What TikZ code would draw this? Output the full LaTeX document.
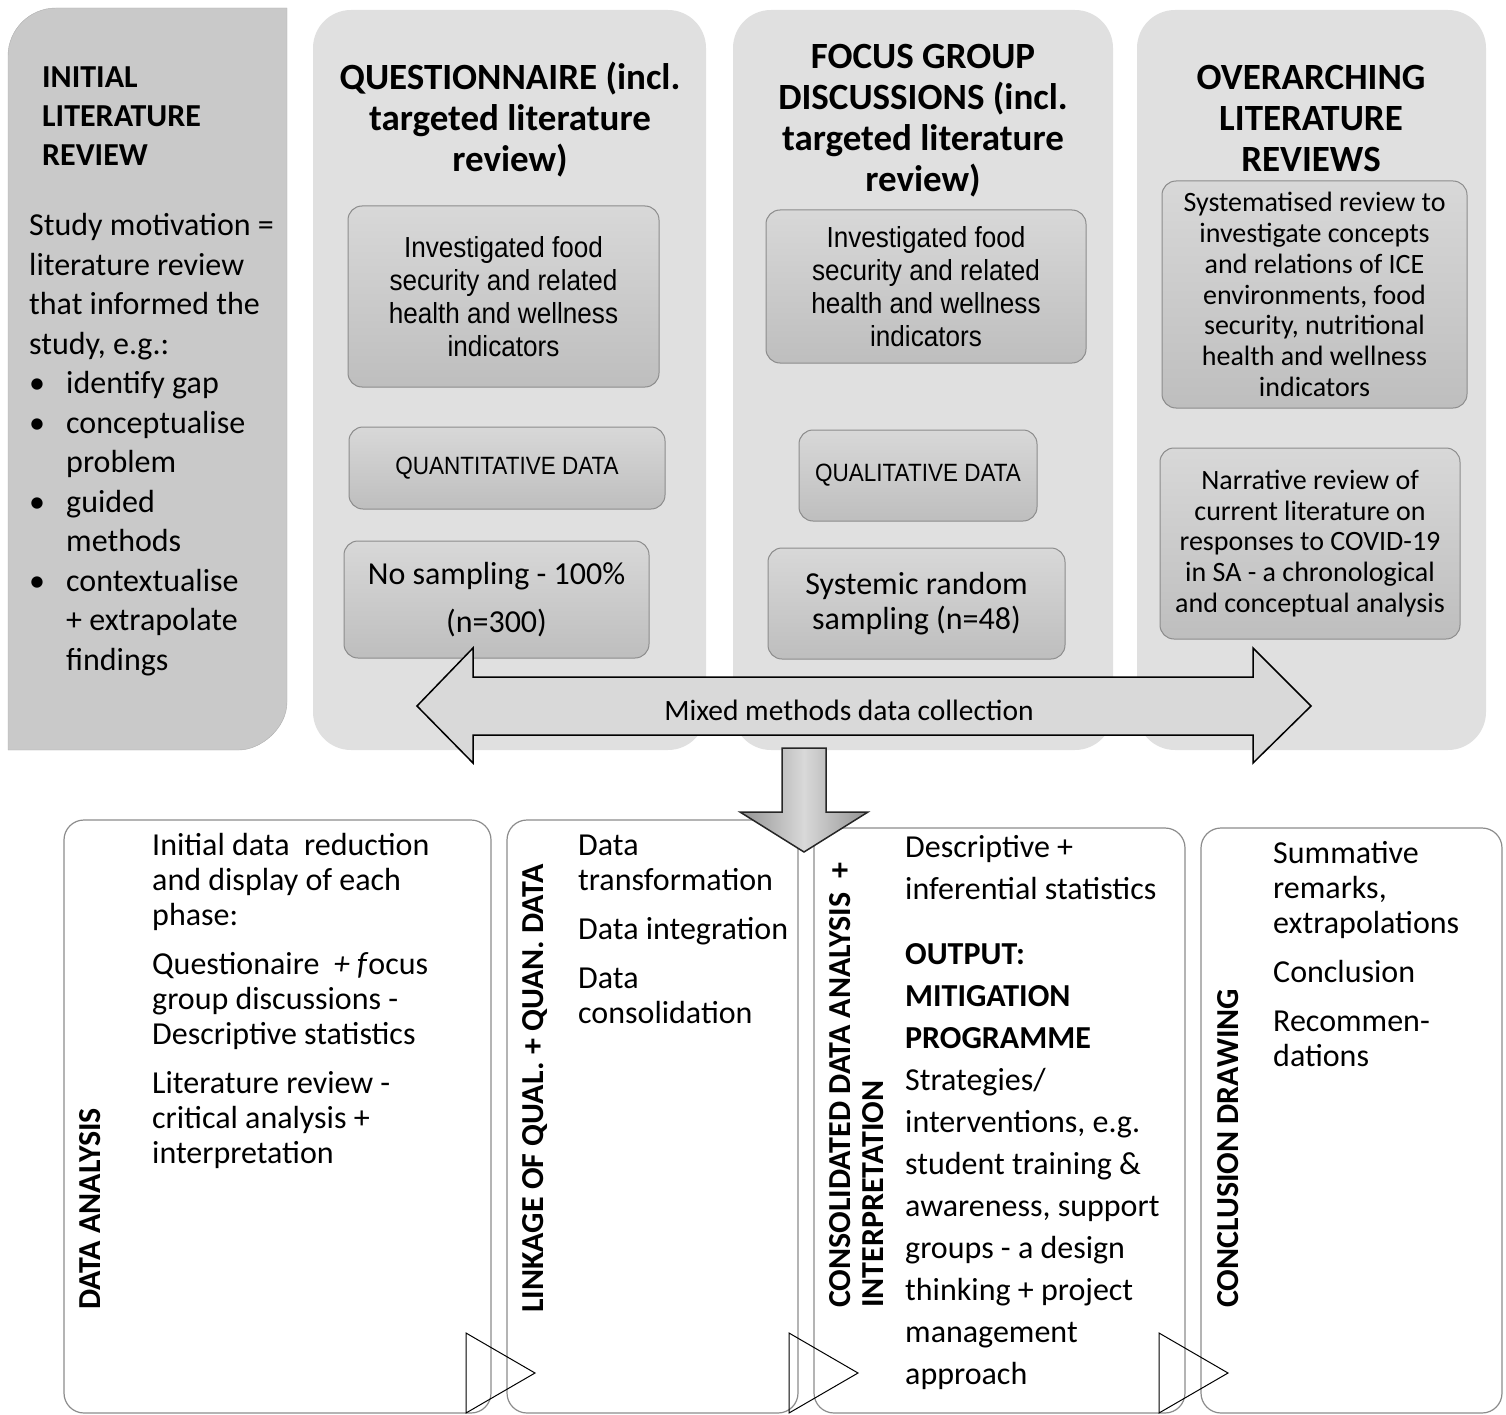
\documentclass[tikz,border=0pt]{standalone}
\usepackage{fontspec}
\setmainfont{Carlito}
\newfontfamily\narrowfont{Liberation Sans}[FakeStretch=0.9]
\usepackage{xcolor}
\usetikzlibrary{positioning}

\definecolor{panelgray}{HTML}{E0E0E0}
\definecolor{litgray}{HTML}{C9C9C9}
\definecolor{subtop}{HTML}{D8D8D8}
\definecolor{subbot}{HTML}{BEBEBE}
\definecolor{edgegray}{HTML}{8C8C8C}
\definecolor{arrowgray}{HTML}{D9D9D9}

\newcommand{\fsz}[2]{\fontsize{#1}{#2}\selectfont}
\newcommand{\bul}{\makebox[37pt][l]{\textbullet}}
\newcommand{\ind}{\hspace*{37pt}}

\begin{document}
\begin{tikzpicture}[x=1pt, y=-1pt,
  panel/.style={fill=panelgray, rounded corners=38pt},
  subbox/.style={draw=edgegray, line width=1pt, top color=subtop, bottom color=subbot, rounded corners=14pt},
  lowbox/.style={draw=edgegray, line width=1.2pt, fill=white, rounded corners=20pt},
  phase/.style={font=\bfseries\fsz{37}{41}, align=center, anchor=base, inner sep=0pt},
  narrowtxt/.style={font=\narrowfont\fsz{29}{33}, align=center},
  bodytxt/.style={font=\fsz{32}{35}, align=left, anchor=base west, inner sep=0pt},
  sidelabel/.style={font=\bfseries\fsz{32}{33}, rotate=90, anchor=base west, inner sep=0pt},
  stepmark/.style={draw=black, line width=1pt}
]
\useasboundingbox (0,0) rectangle (1506,1415);

% Top row: background panels
\draw[edgegray!70, fill=litgray] (8,750) -- (8,56) .. controls (8,29.5) and (29.5,8) .. (56,8)
  -- (287,8) -- (287,702) .. controls (287,728.5) and (260.5,750) .. (239,750) -- cycle;
\fill[panel] (313,10) rectangle (706,750);
\fill[panel] (733,10) rectangle (1113,750);
\fill[panel] (1137,10) rectangle (1486,750);

% Initial literature review (anchored at last baseline)
\node[font=\bfseries\fsz{32}{39}, align=left, anchor=base west, inner sep=0pt] (iltitle) at (42,166)
  {INITIAL\\LITERATURE\\REVIEW};
\node[font=\fsz{32}{39.5}, align=left, anchor=base west, inner sep=0pt] (iltext) at (29,670)
  {Study motivation =\\literature review\\that informed the\\study, e.g.:\\
   \bul identify gap\\\bul conceptualise\\\ind problem\\\bul guided\\\ind methods\\
   \bul contextualise\\\ind + extrapolate\\\ind findings};

% Phase titles
\node[phase] (qtitle) at (510,172) {QUESTIONNAIRE (incl.\\targeted literature\\review)};
\node[phase] (ftitle) at (923,192) {FOCUS GROUP\\DISCUSSIONS (incl.\\targeted literature\\review)};
\node[phase] (otitle) at (1311,172) {OVERARCHING\\LITERATURE\\REVIEWS};

% Questionnaire column
\node[subbox, narrowtxt, minimum width=311pt, minimum height=181pt] (qind) at (503.5,296.5)
  {Investigated food\\security and related\\health and wellness\\indicators};
\node[subbox, font=\narrowfont\fsz{25}{28}, minimum width=316pt, minimum height=82pt] (qdata) at (507,468)
  {QUANTITATIVE DATA};
\node[subbox, font=\fsz{32}{48}, align=center, minimum width=305pt, minimum height=117pt] (qsample) at (496.5,599.5)
  {No sampling - 100\%\\(n=300)};

% Focus group column
\node[subbox, narrowtxt, minimum width=320pt, minimum height=153pt] (find) at (926,286.5)
  {Investigated food\\security and related\\health and wellness\\indicators};
\node[subbox, font=\narrowfont\fsz{25}{28}, minimum width=238pt, minimum height=91pt] (fdata) at (918,475.5)
  {QUALITATIVE DATA};
\node[subbox, font=\fsz{32}{35}, align=center, minimum width=297pt, minimum height=111pt] (fsample) at (916.5,603.5)
  {Systemic random\\sampling (n=48)};

% Overarching reviews column
\node[subbox, font=\fsz{28}{30.8}, align=center, minimum width=305pt, minimum height=227pt] (osys) at (1314.5,294.5)
  {Systematised review to\\investigate concepts\\and relations of ICE\\environments, food\\security, nutritional\\health and wellness\\indicators};
\node[subbox, font=\fsz{28}{30.8}, align=center, minimum width=300pt, minimum height=191pt] (onarr) at (1310,543.5)
  {Narrative review of\\current literature on\\responses to COVID-19\\in SA - a chronological\\and conceptual analysis};

% Mixed methods double arrow
\draw[fill=arrowgray, line width=1.5pt, line join=miter] (417,706) -- (473,648) -- (473,677) -- (1253,677)
  -- (1253,648) -- (1311,706) -- (1253,763) -- (1253,735) -- (473,735) -- (473,763) -- cycle;
\node[font=\fsz{29.5}{30}] (mixlabel) at (849,710) {Mixed methods data collection};

% Bottom row: analysis boxes
\draw[lowbox] (64,820) rectangle (491,1413);
\draw[lowbox] (507,820) rectangle (798,1413);
\draw[lowbox] (814,828) rectangle (1185,1413);
\draw[lowbox] (1201,828) rectangle (1502,1413);

\node[sidelabel] (dalabel) at (100,1310) {DATA ANALYSIS};
\node[sidelabel] (linklabel) at (543,1313) {LINKAGE OF QUAL. + QUAN. DATA};
\node[sidelabel] (conslabel) at (850,1308) {CONSOLIDATED DATA ANALYSIS\ \ +};
\node[sidelabel] (interlabel) at (883,1308) {INTERPRETATION};
\node[sidelabel] (cdlabel) at (1238,1308) {CONCLUSION DRAWING};

% Bottom texts (anchored at last baseline)
\node[bodytxt] (datext) at (152,1163)
  {Initial data\ \ reduction\\and display of each\\phase:\\[14pt]
   Questionaire\ \ \textit{+ f}ocus\\group discussions -\\Descriptive statistics\\[14pt]
   Literature review -\\critical analysis +\\interpretation};
\node[bodytxt] (linktext) at (578,1023)
  {Data\\transformation\\[14pt]Data integration\\[14pt]Data\\consolidation};
\node[bodytxt, font=\fsz{32}{42}] (constext) at (905,1384)
  {Descriptive +\\inferential statistics\\[23pt]
   \textbf{OUTPUT:}\\\textbf{MITIGATION}\\\textbf{PROGRAMME}\\Strategies/\\interventions, e.g.\\
   student training \&\\awareness, support\\groups - a design\\thinking + project\\management\\approach};
\node[bodytxt] (cdtext) at (1273,1066)
  {Summative\\remarks,\\extrapolations\\[14pt]Conclusion\\[14pt]Recommen-\\dations};

% Down arrow into analysis
\shade[left color=gray!85, right color=gray!85, middle color=gray!30, draw=black!85, line width=1.5pt]
  (782,748) -- (826,748) -- (826,812) -- (868,812) -- (804,852) -- (740,812) -- (782,812) -- cycle;

% Step markers
\foreach \tx in {466,789,1159}
  \draw[stepmark] (\tx,1333) -- ++(69,40) -- ++(-69,40) -- cycle;
\end{tikzpicture}
\end{document}
